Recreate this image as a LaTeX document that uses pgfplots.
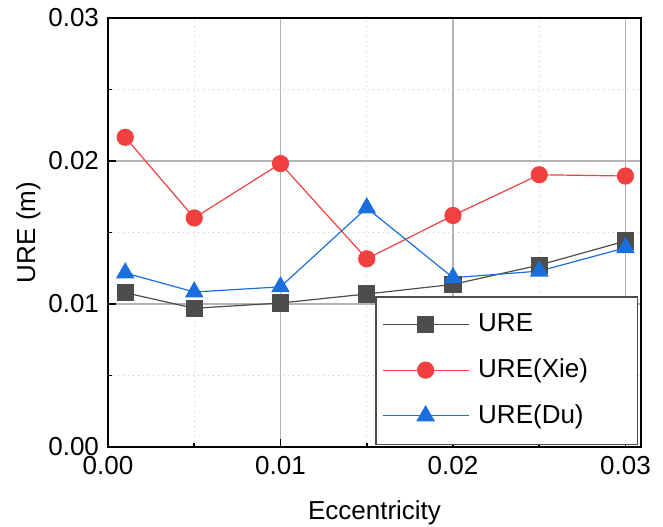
\documentclass[border=0pt]{standalone}
\usepackage{pgfplots}
\pgfplotsset{compat=1.18}
\usepackage{fontspec}
\setmainfont{Liberation Sans}

\definecolor{cUre}{HTML}{4D4D4D}
\definecolor{cXie}{HTML}{F04040}
\definecolor{cDu}{HTML}{1A6FDF}
\definecolor{gridmaj}{HTML}{B4B4B4}
\definecolor{gridmin}{HTML}{C8C8C8}

\begin{document}
\begin{tikzpicture}
\fontsize{13pt}{15pt}\selectfont
\path (0,0) rectangle (331.5pt,263pt);
\begin{axis}[
    at={(54pt,39.5pt)}, anchor=south west,
    scale only axis, width=266.5pt, height=214.5pt,
    xmin=0, xmax=0.0309, ymin=0, ymax=0.03,
    xtick={0,0.01,0.02,0.03}, ytick={0,0.01,0.02,0.03},
    minor xtick={0.005,0.015,0.025}, minor ytick={0.005,0.015,0.025},
    scaled ticks=false,
    /pgf/number format/.cd, fixed, fixed zerofill, precision=2, assume math mode=true, /pgfplots/.cd,
    tick label style={font=\fontsize{13pt}{15pt}\selectfont},
    label style={font=\fontsize{13pt}{15pt}\selectfont},
    tick align=inside, tick pos=left,
    major tick length=4pt, minor tick length=2pt,
    every tick/.style={black, line width=0.8pt},
    axis line style={black, line width=1pt},
    grid=both,
    major grid style={gridmaj, line width=0.7pt},
    minor grid style={gridmin, line width=0.5pt, dotted},
    xlabel={Eccentricity}, ylabel={URE (m)},
    xlabel style={inner sep=0pt, yshift=-8.5pt},
    ylabel style={yshift=-5pt},
    legend style={at={(rel axis cs:0.994,0.005)}, anchor=south east,
        draw=cUre, line width=0.6pt, fill=white,
        font=\fontsize{13pt}{15pt}\selectfont,
        row sep=7.5pt, column sep=2.5pt, inner xsep=3pt, inner ysep=6.5pt,
        cells={anchor=west}},
    legend cell align=left,
    legend image code/.code={%
        \draw[mark repeat=2, mark phase=2, #1]
            plot coordinates {(0pt,0pt) (21.5pt,0pt) (43pt,0pt)};},
]
\addplot[cUre, line width=0.6pt, mark=square*, mark size=4pt,
    mark options={fill=cUre, draw=cUre}] coordinates {
    (0.001,0.01079) (0.005,0.00970) (0.010,0.01007) (0.015,0.01070)
    (0.020,0.01137) (0.025,0.01272) (0.030,0.01440)
};
\addlegendentry[text width=74.5pt]{URE}
\addplot[cXie, line width=0.6pt, mark=*, mark size=4pt,
    mark options={fill=cXie, draw=cXie}] coordinates {
    (0.001,0.02166) (0.005,0.01602) (0.010,0.01982) (0.015,0.01316)
    (0.020,0.01619) (0.025,0.01904) (0.030,0.01895)
};
\addlegendentry[text width=74.5pt]{URE(Xie)}
\addplot[cDu, line width=0.6pt, mark=triangle*, mark size=4.8pt,
    mark options={fill=cDu, draw=cDu}] coordinates {
    (0.001,0.01217) (0.005,0.01084) (0.010,0.01120) (0.015,0.01672)
    (0.020,0.01184) (0.025,0.01230) (0.030,0.01393)
};
\addlegendentry[text width=74.5pt]{URE(Du)}
\end{axis}
\end{tikzpicture}
\end{document}
